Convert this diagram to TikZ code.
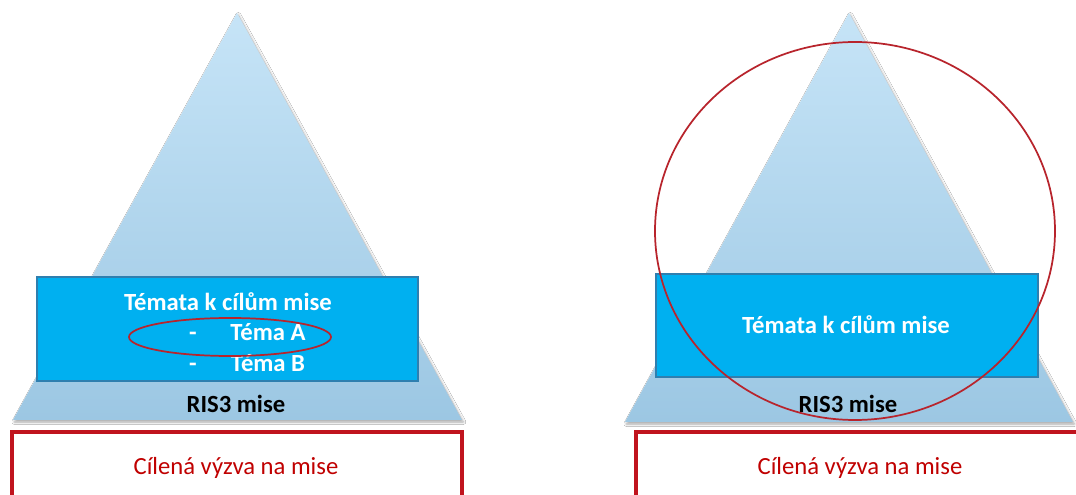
\documentclass[tikz,border=0pt]{standalone}
\usepackage{fontspec}
\setmainfont{Carlito}
\usetikzlibrary{shadows.blur}
\definecolor{tritop}{HTML}{C6E4F7}
\definecolor{tribot}{HTML}{9CC7E3}
\definecolor{boxblue}{HTML}{00B0F0}
\definecolor{boxedge}{HTML}{2F7FAF}
\definecolor{redline}{HTML}{C0141E}
\definecolor{redtext}{HTML}{C00000}
\definecolor{ellred}{HTML}{B8242C}
\tikzset{
  tri/.style={top color=tritop, bottom color=tribot, draw=none, blur shadow={shadow xshift=1pt, shadow yshift=-1.5pt, shadow blur steps=6, shadow opacity=35}},
  topicbox/.style={fill=boxblue, draw=boxedge, line width=1pt},
  callbox/.style={draw=redline, line width=2.6pt, fill=white},
  wtxt/.style={font=\fontsize{18.5}{20}\selectfont\bfseries, text=white, inner sep=0pt, anchor=base},
  btxt/.style={font=\fontsize{18.5}{20}\selectfont\bfseries, text=black, inner sep=0pt, anchor=base},
  rtxt/.style={font=\fontsize{18.5}{20}\selectfont, text=redtext, inner sep=0pt, anchor=base},
  ring/.style={draw=ellred, line width=1.3pt}
}
\begin{document}
\begin{tikzpicture}[x=0.75pt,y=-0.75pt]
\useasboundingbox (0,0) rectangle (1076,495);
\clip (0,0) rectangle (1076,495);
\fill[white] (0,0) rectangle (1076,495);
% left pyramid
\shade[tri] (237,13) -- (462,420) -- (13,420) -- cycle;
\draw[topicbox] (37,277) rectangle (418,381);
\node[wtxt] (lt) at (228,311) {Témata k cílům mise};
\node[wtxt] (ld1) at (193,341) {-};
\node[wtxt] (la) at (268,341) {Téma A};
\node[wtxt] (ld2) at (193,372) {-};
\node[wtxt] (lb) at (268,372) {Téma B};
\draw[ring] (230,337) ellipse [x radius=101, y radius=19];
\node[btxt] (lr) at (236,413) {RIS3 mise};
\draw[callbox] (12,432) rectangle (462,505);
\node[rtxt] (lc) at (236,475) {Cílená výzva na mise};
% right pyramid
\shade[tri] (849,13) -- (1073,422) -- (625,422) -- cycle;
\draw[topicbox] (656,274) rectangle (1038,377);
\node[wtxt] (rt) at (846,334) {Témata k cílům mise};
\node[btxt] (rr) at (848,413) {RIS3 mise};
\draw[ring] (855,231) ellipse [x radius=200, y radius=189];
\draw[callbox] (636,432) rectangle (1090,505);
\node[rtxt] (rc) at (860,475) {Cílená výzva na mise};
\end{tikzpicture}
\end{document}
